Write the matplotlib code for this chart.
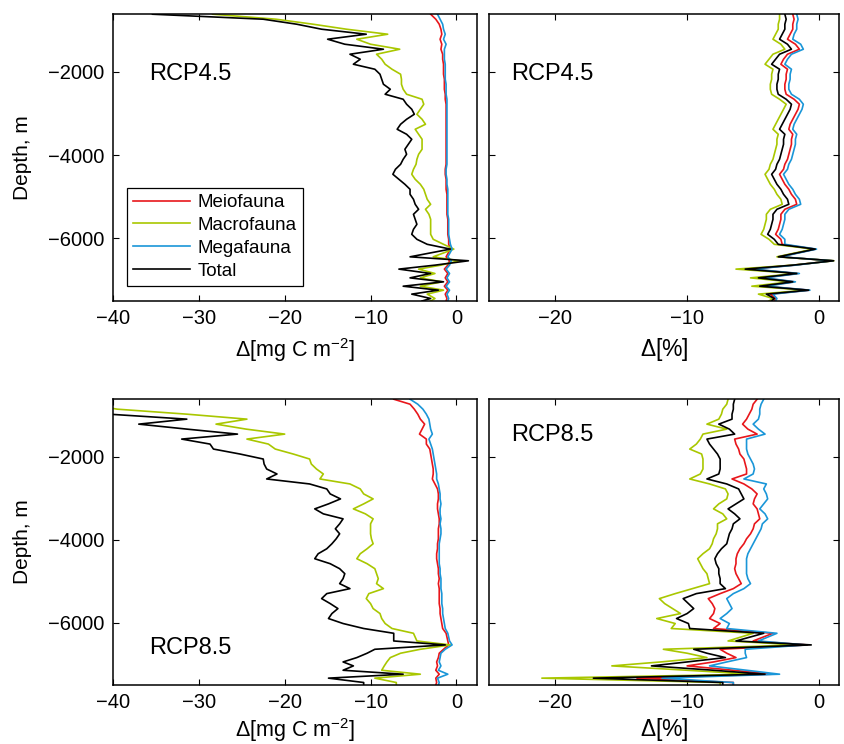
import matplotlib
matplotlib.use("Agg")
import matplotlib.pyplot as plt

plt.rcParams['font.family'] = ['Liberation Sans', 'DejaVu Sans']
plt.rcParams['mathtext.fontset'] = 'custom'
plt.rcParams['mathtext.rm'] = 'Liberation Sans'
plt.rcParams['mathtext.it'] = 'Liberation Sans:italic'

# ------------------------------------------------------
# data: depth levels (m) shared by all panels
# ------------------------------------------------------
depth = [-620, -740, -860, -980, -1100, -1220, -1340, -1460, -1580, -1700,
         -1820, -1940, -2060, -2180, -2300, -2420, -2540, -2660, -2780, -2900,
         -3020, -3140, -3260, -3380, -3500, -3620, -3740, -3860, -3980, -4100,
         -4220, -4340, -4460, -4580, -4700, -4820, -4940, -5060, -5180, -5300,
         -5420, -5540, -5660, -5780, -5900, -6020, -6140,
         -6255, -6440, -6535, -6640, -6735, -6840, -6945, -7040, -7145, -7240,
         -7335, -7440, -7500]

# RCP4.5, change in mg C m-2
meio_abs45 = [-3.0, -2.4, -2.0, -1.8, -1.7, -1.9, -1.7, -1.8, -1.6, -1.6,
              -1.5, -1.5, -1.5, -1.4, -1.4, -1.4, -1.3, -1.3, -1.2, -1.2,
              -1.2, -1.2, -1.2, -1.2, -1.2, -1.2, -1.2, -1.2, -1.2, -1.2,
              -1.2, -1.3, -1.3, -1.2, -1.2, -1.2, -1.1, -1.1, -1.1, -1.1,
              -1.1, -1.0, -1.0, -1.0, -1.0, -0.9, -0.9,
              -0.7, -1.2, -0.8, -1.0, -1.4, -1.0, -1.3, -1.0, -1.4, -1.0,
              -1.3, -1.1, -1.2]
macro_abs45 = [-28.4, -21.0, -16.7, -12.8, -8.0, -11.6, -10.0, -6.6, -9.3, -8.7,
               -8.3, -7.5, -6.5, -6.4, -6.4, -6.2, -5.8, -4.0, -3.8, -4.2,
               -4.6, -4.0, -3.6, -4.8, -4.4, -4.0, -4.0, -4.0, -4.4, -4.6,
               -4.7, -5.0, -5.2, -4.8, -4.2, -3.8, -3.6, -3.4, -3.0, -3.6,
               -3.2, -3.0, -3.0, -3.0, -3.0, -2.7, -1.5,
               -0.3, -2.7, 0.3, -1.8, -4.4, -2.5, -4.2, -1.7, -4.2, -1.5,
               -3.4, -2.5, -3.0]
mega_abs45 = [-2.2, -1.9, -1.6, -1.5, -1.3, -1.5, -1.2, -1.4, -1.4, -1.4,
              -1.3, -1.3, -1.3, -1.3, -1.2, -1.2, -1.2, -1.1, -1.1, -1.1,
              -1.1, -1.1, -1.1, -1.1, -1.1, -1.1, -1.1, -1.1, -1.1, -1.1,
              -1.1, -1.2, -1.2, -1.1, -1.1, -1.0, -1.0, -1.0, -1.0, -1.0,
              -1.0, -0.9, -0.9, -0.9, -0.9, -0.8, -0.7,
              -0.5, -1.0, -0.6, -0.8, -1.2, -0.8, -1.1, -0.8, -1.2, -0.8,
              -1.1, -0.9, -1.0]
total_abs45 = [-35.4, -22.5, -18.6, -15.7, -10.5, -15.0, -13.0, -8.5, -12.4, -11.2,
               -12.0, -9.5, -8.9, -8.7, -8.5, -7.7, -8.3, -6.2, -5.8, -5.2,
               -4.9, -5.8, -6.5, -6.9, -5.8, -5.2, -5.6, -6.0, -5.8, -6.2,
               -6.5, -7.1, -7.4, -6.7, -6.0, -5.4, -5.4, -5.0, -4.8, -4.4,
               -5.0, -4.8, -4.6, -5.0, -5.2, -4.6, -3.4,
               -0.7, -5.4, 1.4, -2.5, -6.7, -3.0, -5.4, -1.5, -6.2, -2.1,
               -5.2, -3.0, -4.0]

# RCP4.5, change in %
meio_pct45 = [-2.0, -1.9, -2.0, -2.0, -2.2, -2.4, -1.8, -1.5, -2.4, -2.7,
              -2.9, -2.4, -2.5, -2.5, -2.6, -2.6, -2.5, -1.9, -1.5, -1.6,
              -1.8, -2.0, -2.2, -2.3, -2.0, -2.1, -2.1, -2.2, -2.3, -2.4,
              -2.6, -2.7, -3.0, -2.8, -2.6, -2.3, -2.1, -1.8, -1.7, -2.6,
              -2.9, -2.9, -3.0, -3.1, -3.3, -2.9, -2.8,
              -0.3, -3.0, 1.0, -1.9, -5.2, -1.6, -4.3, -1.9, -4.2, -0.75,
              -3.7, -3.3, -3.4]
macro_pct45 = [-3.0, -3.0, -3.1, -3.1, -3.3, -3.5, -2.9, -2.6, -3.5, -3.8,
               -4.1, -3.5, -3.6, -3.6, -3.7, -3.7, -3.6, -3.0, -2.5, -2.7,
               -2.9, -3.1, -3.3, -3.5, -3.1, -3.2, -3.2, -3.3, -3.4, -3.5,
               -3.7, -3.8, -4.1, -3.9, -3.7, -3.4, -3.2, -2.9, -2.8, -3.7,
               -4.0, -4.0, -4.1, -4.2, -4.4, -3.8, -3.4,
               -0.45, -3.2, 1.1, -2.0, -6.3, -1.7, -5.2, -2.2, -5.1, -1.0,
               -4.6, -3.5, -3.8]
mega_pct45 = [-1.7, -1.6, -1.7, -1.7, -1.9, -2.0, -1.4, -1.2, -2.1, -2.4,
              -2.6, -2.1, -2.2, -2.2, -2.3, -2.3, -2.1, -1.5, -1.2, -1.3,
              -1.5, -1.7, -1.9, -2.0, -1.7, -1.8, -1.8, -1.9, -2.0, -2.1,
              -2.3, -2.4, -2.7, -2.5, -2.3, -2.0, -1.8, -1.5, -1.4, -2.3,
              -2.6, -2.6, -2.7, -2.8, -3.0, -2.6, -2.6,
              -0.2, -2.9, 1.0, -1.8, -5.0, -1.5, -4.1, -1.8, -4.0, -0.7,
              -3.5, -3.2, -3.3]
total_pct45 = [-2.6, -2.5, -2.6, -2.6, -2.8, -3.0, -2.4, -2.1, -3.0, -3.3,
               -3.6, -3.0, -3.1, -3.1, -3.2, -3.2, -3.1, -2.5, -2.1, -2.2,
               -2.4, -2.6, -2.8, -3.0, -2.6, -2.7, -2.7, -2.8, -2.9, -3.0,
               -3.2, -3.3, -3.6, -3.4, -3.2, -2.9, -2.7, -2.4, -2.3, -3.2,
               -3.5, -3.5, -3.6, -3.7, -3.9, -3.4, -3.1,
               -0.3, -3.1, 1.1, -2.0, -5.6, -1.7, -4.6, -2.0, -4.5, -0.8,
               -4.0, -3.4, -3.6]

# RCP8.5, change in mg C m-2
meio_abs85 = [-7.3, -5.4, -4.9, -4.5, -4.2, -3.7, -4.0, -4.3, -3.5, -3.5,
              -3.1, -3.0, -2.9, -2.8, -2.7, -2.7, -2.8, -2.5, -2.2, -2.1,
              -2.1, -2.2, -2.2, -2.1, -2.0, -2.0, -2.1, -2.1, -2.1, -2.2,
              -2.2, -2.3, -2.3, -2.2, -2.1, -2.1, -2.0, -2.1, -2.0, -2.0,
              -2.0, -2.0, -1.9, -1.9, -1.8, -1.7, -1.6,
              -1.2, -1.0, -0.9, -1.5, -2.0, -2.1, -2.3, -2.2, -2.4, -2.0,
              -2.4, -2.3, -2.4]
macro_abs85 = [-46.0, -43.0, -39.5, -31.4, -24.4, -28.0, -24.5, -20.0, -24.4, -21.9,
               -21.1, -19.0, -17.1, -16.9, -16.3, -15.5, -15.9, -12.4, -11.2, -10.8,
               -9.7, -10.8, -12.0, -10.6, -9.7, -10.0, -10.0, -10.0, -9.9, -9.7,
               -10.4, -11.2, -11.6, -10.4, -9.5, -9.3, -9.1, -9.3, -8.5, -10.2,
               -10.5, -10.0, -9.7, -8.9, -8.7, -8.3, -7.5,
               -5.0, -4.6, -0.7, -4.2, -6.5, -7.7, -8.1, -8.4, -8.7, -4.2,
               -9.5, -7.0, -7.0]
mega_abs85 = [-5.4, -4.5, -3.9, -3.5, -3.2, -3.1, -3.0, -2.8, -3.2, -3.0,
              -2.8, -2.7, -2.6, -2.5, -2.4, -2.3, -2.3, -2.1, -2.0, -1.9,
              -1.9, -1.8, -1.9, -1.9, -1.8, -1.9, -1.8, -1.8, -1.9, -2.0,
              -2.0, -2.0, -2.0, -2.0, -1.9, -1.9, -1.8, -1.8, -1.8, -1.7,
              -1.7, -1.7, -1.6, -1.6, -1.5, -1.4, -1.3,
              -1.0, -0.8, -0.5, -1.3, -1.8, -1.9, -2.0, -1.8, -2.1, -1.0,
              -2.2, -2.0, -2.1]
total_abs85 = [-55.0, -50.0, -45.0, -40.5, -31.4, -37.0, -31.4, -25.5, -32.0, -28.7,
               -28.3, -25.2, -22.5, -22.4, -22.1, -20.9, -22.1, -17.1, -15.1, -14.7,
               -13.5, -14.9, -16.5, -15.5, -13.2, -13.6, -14.1, -13.6, -14.0, -14.5,
               -15.1, -16.1, -16.5, -14.7, -13.6, -13.0, -13.2, -13.6, -12.4, -15.1,
               -15.7, -14.7, -13.8, -14.5, -14.9, -13.2, -10.8,
               -7.3, -7.3, -1.3, -9.5, -10.4, -11.6, -13.2, -12.0, -13.2, -6.2,
               -14.9, -10.8, -10.8]

# RCP8.5, change in %
meio_pct85 = [-4.7, -5.0, -5.1, -5.3, -5.5, -5.8, -5.4, -4.7, -6.4, -6.3,
              -6.1, -6.0, -5.7, -5.6, -5.5, -5.5, -6.6, -5.7, -5.1, -4.7,
              -4.9, -5.0, -4.7, -4.6, -4.5, -4.9, -5.0, -5.2, -5.5, -5.7,
              -6.0, -6.2, -6.3, -6.3, -6.4, -6.3, -6.1, -5.9, -6.5, -7.5,
              -8.4, -8.1, -7.9, -8.0, -8.3, -7.5, -8.0,
              -3.5, -5.0, -0.9, -7.5, -7.0, -6.3, -8.0, -10.0, -6.5, -3.6,
              -13.8, -6.5, -6.5]
macro_pct85 = [-6.9, -7.0, -7.3, -7.4, -7.6, -8.5, -7.0, -8.8, -9.0, -9.3,
               -9.8, -8.9, -8.8, -8.8, -8.8, -9.0, -9.8, -8.3, -7.1, -6.9,
               -7.0, -7.6, -8.0, -7.3, -7.0, -7.7, -7.7, -7.8, -8.0, -8.1,
               -8.3, -8.8, -9.2, -9.0, -8.8, -8.5, -8.4, -8.3, -9.6, -10.9,
               -12.1, -11.7, -11.1, -10.5, -12.3, -10.9, -11.2,
               -5.0, -6.9, -1.5, -11.8, -10.0, -8.5, -12.0, -15.7, -10.0, -5.0,
               -21.0, -7.5, -7.5]
mega_pct85 = [-4.2, -4.4, -4.5, -4.5, -4.6, -5.0, -4.6, -4.1, -5.5, -5.5,
              -5.5, -5.4, -5.2, -5.0, -4.9, -5.0, -5.7, -4.0, -4.2, -4.0,
              -3.9, -4.2, -4.5, -4.1, -3.9, -4.3, -4.4, -4.6, -4.8, -5.0,
              -5.2, -5.4, -5.5, -5.5, -5.5, -5.5, -5.4, -5.2, -5.7, -6.5,
              -7.0, -6.8, -6.6, -7.0, -7.5, -6.8, -7.0,
              -3.2, -4.6, -1.0, -5.6, -5.6, -5.5, -7.0, -8.3, -5.5, -3.0,
              -11.9, -6.5, -6.5]
total_pct85 = [-6.4, -6.5, -6.5, -6.6, -6.6, -7.6, -6.8, -6.4, -8.5, -8.3,
               -8.0, -7.7, -7.5, -7.5, -7.5, -7.6, -8.5, -7.0, -6.1, -5.9,
               -5.7, -6.3, -6.9, -6.4, -6.0, -6.5, -6.6, -6.8, -6.9, -7.0,
               -7.4, -7.7, -7.9, -7.8, -7.6, -7.6, -7.5, -7.5, -7.1, -9.3,
               -10.3, -9.9, -9.5, -10.0, -10.8, -9.9, -9.8,
               -4.2, -6.3, -0.6, -9.5, -8.5, -7.1, -10.0, -12.7, -8.0, -4.1,
               -17.1, -7.3, -7.3]

names = ['Meiofauna', 'Macrofauna', 'Megafauna', 'Total']
colors = ['#e8161b', '#a9c700', '#1a96d8', 'black']

# ------------------------------------------------------
# figure layout (positions measured from the reference, in pixels)
# ------------------------------------------------------
fig = plt.figure(figsize=(8.44, 7.44), dpi=100)
W, H = 844.0, 744.0

def make_ax(x0, x1, y0, y1):
    return fig.add_axes([x0 / W, 1 - y1 / H, (x1 - x0) / W, (y1 - y0) / H])

ax_tl = make_ax(113, 477, 14, 301)
ax_tr = make_ax(489, 839, 14, 301)
ax_bl = make_ax(113, 477, 399, 685)
ax_br = make_ax(489, 839, 399, 685)

panels = [
    (ax_tl, [meio_abs45, macro_abs45, mega_abs45, total_abs45], 'abs', 'RCP4.5', (0.10, 0.79), -0.122),
    (ax_tr, [meio_pct45, macro_pct45, mega_pct45, total_pct45], 'pct', 'RCP4.5', (0.062, 0.79), -0.122),
    (ax_bl, [meio_abs85, macro_abs85, mega_abs85, total_abs85], 'abs', 'RCP8.5', (0.10, 0.13), -0.11),
    (ax_br, [meio_pct85, macro_pct85, mega_pct85, total_pct85], 'pct', 'RCP8.5', (0.062, 0.875), -0.11),
]

for ax, series, kind, title, tpos, xlab_y in panels:
    for vals, name, c in zip(series, names, colors):
        ax.plot(vals, depth, color=c, lw=1.2, label=name)
    ax.set_ylim(-7500, -615)
    ax.set_yticks([-2000, -4000, -6000])
    if kind == 'abs':
        ax.set_xlim(-40, 2.4)
        ax.set_xticks([-40, -30, -20, -10, 0])
        ax.set_xlabel(r'$\Delta$[mg C m$^{-2}$]', fontsize=15.5)
        ax.set_ylabel('Depth, m', fontsize=15)
        ax.yaxis.set_label_coords(-0.222, 0.5)
    else:
        ax.set_xlim(-25, 1.5)
        ax.set_xticks([-20, -10, 0])
        ax.set_xlabel(r'$\Delta$[%]', fontsize=16.5)
        ax.set_yticklabels([])
    ax.xaxis.set_label_coords(0.5, xlab_y)
    ax.xaxis.label.set_va('top')
    ax.tick_params(direction='in', top=True, right=True, labelsize=14.5,
                   length=4, width=0.8, pad=6)
    for sp in ax.spines.values():
        sp.set_linewidth(1.1)
    ax.text(tpos[0], tpos[1], title, transform=ax.transAxes, fontsize=17,
            ha='left', va='center')

leg = ax_tl.legend(loc='lower left', bbox_to_anchor=(0.038, 0.052), borderaxespad=0,
                   fontsize=13.5, handlelength=3.0, handletextpad=0.4,
                   labelspacing=0.3, borderpad=0.35, fancybox=False, framealpha=1)
leg.get_frame().set_edgecolor('black')
leg.get_frame().set_linewidth(0.9)

fig.savefig('out.png', dpi=100)
